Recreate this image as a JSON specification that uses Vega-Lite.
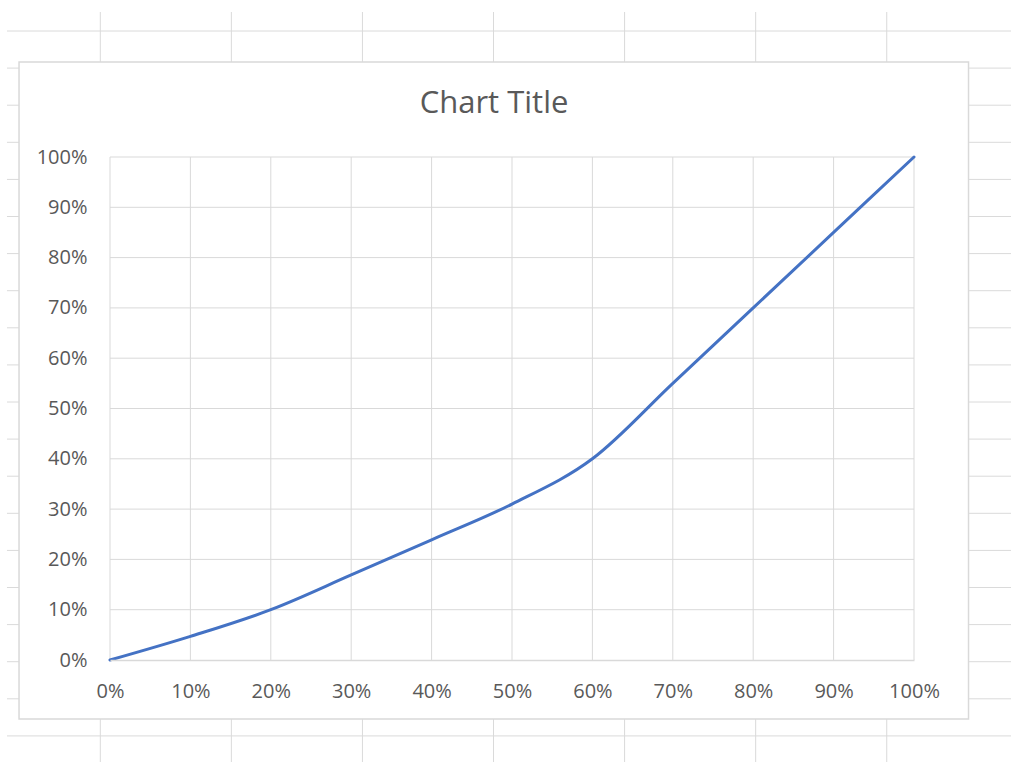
{
  "$schema": "https://vega.github.io/schema/vega-lite/v6.json",
  "width": 804,
  "height": 503,
  "padding": {"left": 110, "top": 157, "right": 97, "bottom": 102},
  "autosize": {"type": "none"},
  "background": "white",
  "title": {
    "text": "Chart Title",
    "font": "Open Sans",
    "fontSize": 31,
    "fontWeight": "normal",
    "color": "#595959",
    "anchor": "middle",
    "frame": "group",
    "dx": -18,
    "offset": -108
  },
  "config": {
    "view": {"stroke": null},
    "font": "Open Sans"
  },
  "layer": [
    {
      "description": "Worksheet cell grid behind the embedded chart, in column/row units",
      "layer": [
        {
          "data": {"values": [{"col": 0}, {"col": 1}, {"col": 2}, {"col": 3}, {"col": 4}, {"col": 5}, {"col": 6}]},
          "mark": {"type": "rule", "color": "#dadada", "strokeWidth": 1},
          "encoding": {
            "x": {"field": "col", "type": "quantitative", "scale": {"domain": [0.074, 6.208], "nice": false, "zero": false}, "axis": null},
            "y": {"datum": -0.512, "type": "quantitative", "scale": {"domain": [3.396, 16.954], "reverse": true, "nice": false, "zero": false}, "axis": null},
            "y2": {"datum": 19.8}
          }
        },
        {
          "data": {"values": [{"row": 0}, {"row": 1}, {"row": 2}, {"row": 3}, {"row": 4}, {"row": 5}, {"row": 6}, {"row": 7}, {"row": 8}, {"row": 9}, {"row": 10}, {"row": 11}, {"row": 12}, {"row": 13}, {"row": 14}, {"row": 15}, {"row": 16}, {"row": 17}, {"row": 18}, {"row": 19}]},
          "mark": {"type": "rule", "color": "#dadada", "strokeWidth": 1},
          "encoding": {
            "y": {"field": "row", "type": "quantitative"},
            "x": {"datum": -0.712, "type": "quantitative"},
            "x2": {"datum": 7.2}
          }
        },
        {
          "data": {"values": [{"part": "chart area"}]},
          "mark": {"type": "rect", "fill": "white", "stroke": "#d9d9d9", "strokeWidth": 1.5},
          "encoding": {
            "x": {"datum": -0.62, "type": "quantitative"},
            "x2": {"datum": 6.624},
            "y": {"datum": 0.836, "type": "quantitative"},
            "y2": {"datum": 18.544}
          }
        }
      ]
    },
    {
      "description": "Smoothed line chart with percentage axes",
      "layer": [
        {
          "data": {"values": [{"t": 0}, {"t": 0.1}, {"t": 0.2}, {"t": 0.3}, {"t": 0.4}, {"t": 0.5}, {"t": 0.6}, {"t": 0.7}, {"t": 0.8}, {"t": 0.9}, {"t": 1}]},
          "mark": {"type": "rule", "color": "#d9d9d9", "strokeWidth": 1},
          "encoding": {
            "x": {"field": "t", "type": "quantitative"}
          }
        },
        {
          "data": {"values": [{"t": 0.1}, {"t": 0.2}, {"t": 0.3}, {"t": 0.4}, {"t": 0.5}, {"t": 0.6}, {"t": 0.7}, {"t": 0.8}, {"t": 0.9}, {"t": 1}]},
          "mark": {"type": "rule", "color": "#d9d9d9", "strokeWidth": 1},
          "encoding": {
            "y": {"field": "t", "type": "quantitative"}
          }
        },
        {
          "data": {"values": [
            {"x": 0, "y": 0},
            {"x": 0.1, "y": 0.047},
            {"x": 0.2, "y": 0.10},
            {"x": 0.3, "y": 0.169},
            {"x": 0.4, "y": 0.239},
            {"x": 0.5, "y": 0.31},
            {"x": 0.6, "y": 0.40},
            {"x": 0.7, "y": 0.55},
            {"x": 0.8, "y": 0.70},
            {"x": 0.9, "y": 0.85},
            {"x": 1, "y": 1}
          ]},
          "mark": {"type": "line", "color": "#4472C4", "strokeWidth": 3, "interpolate": "cardinal", "strokeCap": "round"},
          "encoding": {
            "x": {
              "field": "x", "type": "quantitative",
              "scale": {"domain": [0, 1], "nice": false, "zero": false},
              "axis": {
                "orient": "bottom",
                "values": [0, 0.1, 0.2, 0.3, 0.4, 0.5, 0.6, 0.7, 0.8, 0.9, 1],
                "format": ".0%", "title": null, "grid": false, "ticks": false,
                "domain": true, "domainColor": "#d9d9d9", "domainWidth": 1.5,
                "labelFont": "Open Sans", "labelFontSize": 20, "labelColor": "#595959",
                "labelPadding": 21, "labelFlush": false, "labelOverlap": false, "zindex": 1
              }
            },
            "y": {
              "field": "y", "type": "quantitative",
              "scale": {"domain": [0, 1], "nice": false, "zero": false},
              "axis": {
                "orient": "left",
                "values": [0, 0.1, 0.2, 0.3, 0.4, 0.5, 0.6, 0.7, 0.8, 0.9, 1],
                "format": ".0%", "title": null, "grid": false, "ticks": false, "domain": false,
                "labelFont": "Open Sans", "labelFontSize": 20, "labelColor": "#595959",
                "labelPadding": 23, "labelFlush": false, "labelOverlap": false, "zindex": 1
              }
            }
          }
        }
      ]
    }
  ],
  "resolve": {"scale": {"x": "independent", "y": "independent"}}
}
